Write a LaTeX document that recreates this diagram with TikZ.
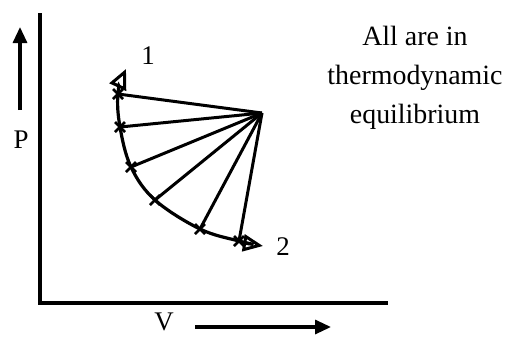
\documentclass[tikz,border=0pt]{standalone}
\usepackage{fontspec}
\setmainfont{Liberation Serif}
\usetikzlibrary{arrows.meta}
\begin{document}
\begin{tikzpicture}[x=1bp,y=-1bp,
  thick line/.style={line width=3.2bp},
  spoke/.style={line width=3bp},
  xmark/.style={line width=2.6bp},
  lbl/.style={inner sep=0pt,font=\fontsize{27}{27}\selectfont},
  axisarrow/.style={line width=3.2bp,-{Triangle[length=16bp,width=14bp]}}]
\useasboundingbox (0,0) rectangle (509,336);
% axes
\coordinate (ytop) at (40,13);
\coordinate (orig) at (40,303);
\coordinate (xend) at (388,303);
\draw[thick line] (ytop) -- (orig) -- (xend);
% direction arrows
\coordinate (pa) at (20,110);
\coordinate (pb) at (20,27);
\draw[axisarrow] (pa) -- (pb);
\coordinate (va) at (195,327);
\coordinate (vb) at (331,327);
\draw[axisarrow] (va) -- (vb);
\node[lbl] (P) at (21,140) {P};
\node[lbl] (V) at (164,322) {V};
% process curve
\coordinate (c) at (262,113);
\coordinate (p1) at (118,94);
\coordinate (p2) at (120,127);
\coordinate (p3) at (131,167);
\coordinate (p4) at (155,200);
\coordinate (p5) at (200,229);
\coordinate (p6) at (239,241);
\draw[line width=3.2bp,
  {Triangle[open,length=20bp,width=18bp,line width=3bp]}-{Triangle[open,length=20bp,width=17bp,line width=3bp]}]
  plot[smooth,tension=0.6] coordinates {(126,69) (118,94) (120,127) (131,167) (155,200) (200,229) (239,241) (263,246)};
\foreach \p in {p1,p2,p3,p4,p5,p6}{
  \draw[spoke] (c) -- (\p);
  \draw[xmark] ([shift={(-5,-5)}]\p) -- ([shift={(5,5)}]\p);
  \draw[xmark] ([shift={(-5,5)}]\p) -- ([shift={(5,-5)}]\p);
}
\node[lbl] (one) at (148,56) {1};
\node[lbl] (two) at (283,247) {2};
\node[align=center,inner sep=0pt,font=\fontsize{28}{39}\selectfont] (txt) at (415,78)
  {All are in\\thermodynamic\\equilibrium};
\end{tikzpicture}
\end{document}
